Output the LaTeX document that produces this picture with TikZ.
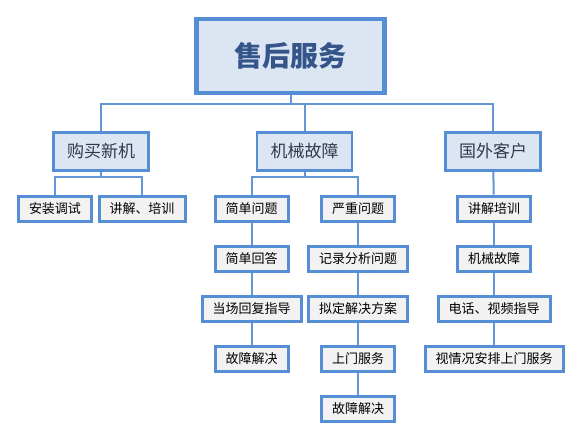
\documentclass[tikz,border=0pt]{standalone}
\usepackage{fontspec}
\newfontfamily\cjk{Noto Sans CJK SC}
\usetikzlibrary{backgrounds}
\definecolor{boxline}{RGB}{85,142,213}
\definecolor{linkline}{RGB}{100,150,215}
\definecolor{headfill}{RGB}{220,230,242}
\definecolor{leaffill}{RGB}{242,242,242}
\definecolor{titletext}{RGB}{52,84,138}
\definecolor{midtext}{RGB}{50,56,80}
\tikzset{
  topbox/.style={draw=boxline,fill=headfill,line width=4.5pt,minimum width=188pt,minimum height=74pt,
    font=\cjk\bfseries\fontsize{28}{32}\selectfont,text=titletext},
  midbox/.style={draw=boxline,fill=headfill,line width=2.5pt,minimum width=95pt,minimum height=38pt,
    font=\cjk\fontsize{17}{20}\selectfont,text=midtext},
  leafbox/.style={draw=boxline,fill=leaffill,line width=3pt,inner xsep=10.5pt,inner ysep=0pt,minimum height=25pt,
    font=\cjk\fontsize{13}{15}\selectfont,text=black},
  link/.style={draw=linkline,line width=2pt}
}

\begin{document}
\begin{tikzpicture}[x=1pt,y=-1pt]

\useasboundingbox (0,0) rectangle (582,439);

\coordinate (bus) at (0,104);
\coordinate (subbus) at (0,176.5);

\node[topbox] (shouhou) at (290.5,56) {售后服务};

\node[midbox] (goumai) at (101,151.5) {购买新机};
\node[midbox] (jixie) at (304.5,151.5) {机械故障};
\node[midbox] (guowai) at (493,151.5) {国外客户};

\node[leafbox] (anzhuang) at (55,208.5) {安装调试};
\node[leafbox] (jiangjie) at (142,208.5) {讲解、培训};

\node[leafbox] (jiandan) at (251.5,208.5) {简单问题};
\node[leafbox] (huida) at (251.5,258.5) {简单回答};
\node[leafbox] (dangchang) at (251.5,308.5) {当场回复指导};
\node[leafbox] (jiejueA) at (251.5,358.5) {故障解决};

\node[leafbox] (yanzhong) at (358,208.5) {严重问题};
\node[leafbox] (jilu) at (358,258.5) {记录分析问题};
\node[leafbox] (niding) at (358,308.5) {拟定解决方案};
\node[leafbox] (shangmen) at (358,358.5) {上门服务};
\node[leafbox] (jiejueB) at (358,409) {故障解决};

\node[leafbox] (peixun) at (494,208.5) {讲解培训};
\node[leafbox] (guzhang) at (494,258.5) {机械故障};
\node[leafbox] (dianhua) at (494,308.5) {电话、视频指导};
\node[leafbox] (shiqing) at (494,358.5) {视情况安排上门服务};

\begin{scope}[on background layer]
\draw[link] (shouhou.south) -- (shouhou.south |- bus);
\draw[link] (goumai.north) -- (goumai.north |- bus) -- (guowai.north |- bus) -- (guowai.north);
\draw[link] (jixie.north) -- (jixie.north |- bus);

\draw[link] (goumai.south) -- (goumai.south |- subbus);
\draw[link] (anzhuang.north) -- (anzhuang.north |- subbus) -- (jiangjie.north |- subbus) -- (jiangjie.north);

\draw[link] (jixie.south) -- (jixie.south |- subbus);
\draw[link] (jiandan.north) -- (jiandan.north |- subbus) -- (yanzhong.north |- subbus) -- (yanzhong.north);
\draw[link] (jiandan) -- (huida);
\draw[link] (huida) -- (dangchang);
\draw[link] (dangchang) -- (jiejueA);
\draw[link] (yanzhong) -- (jilu);
\draw[link] (jilu) -- (niding);
\draw[link] (niding) -- (shangmen);
\draw[link] (shangmen) -- (jiejueB);

\draw[link] (guowai) -- (peixun);
\draw[link] (peixun) -- (guzhang);
\draw[link] (guzhang) -- (dianhua);
\draw[link] (dianhua) -- (shiqing);
\end{scope}

\end{tikzpicture}
\end{document}
